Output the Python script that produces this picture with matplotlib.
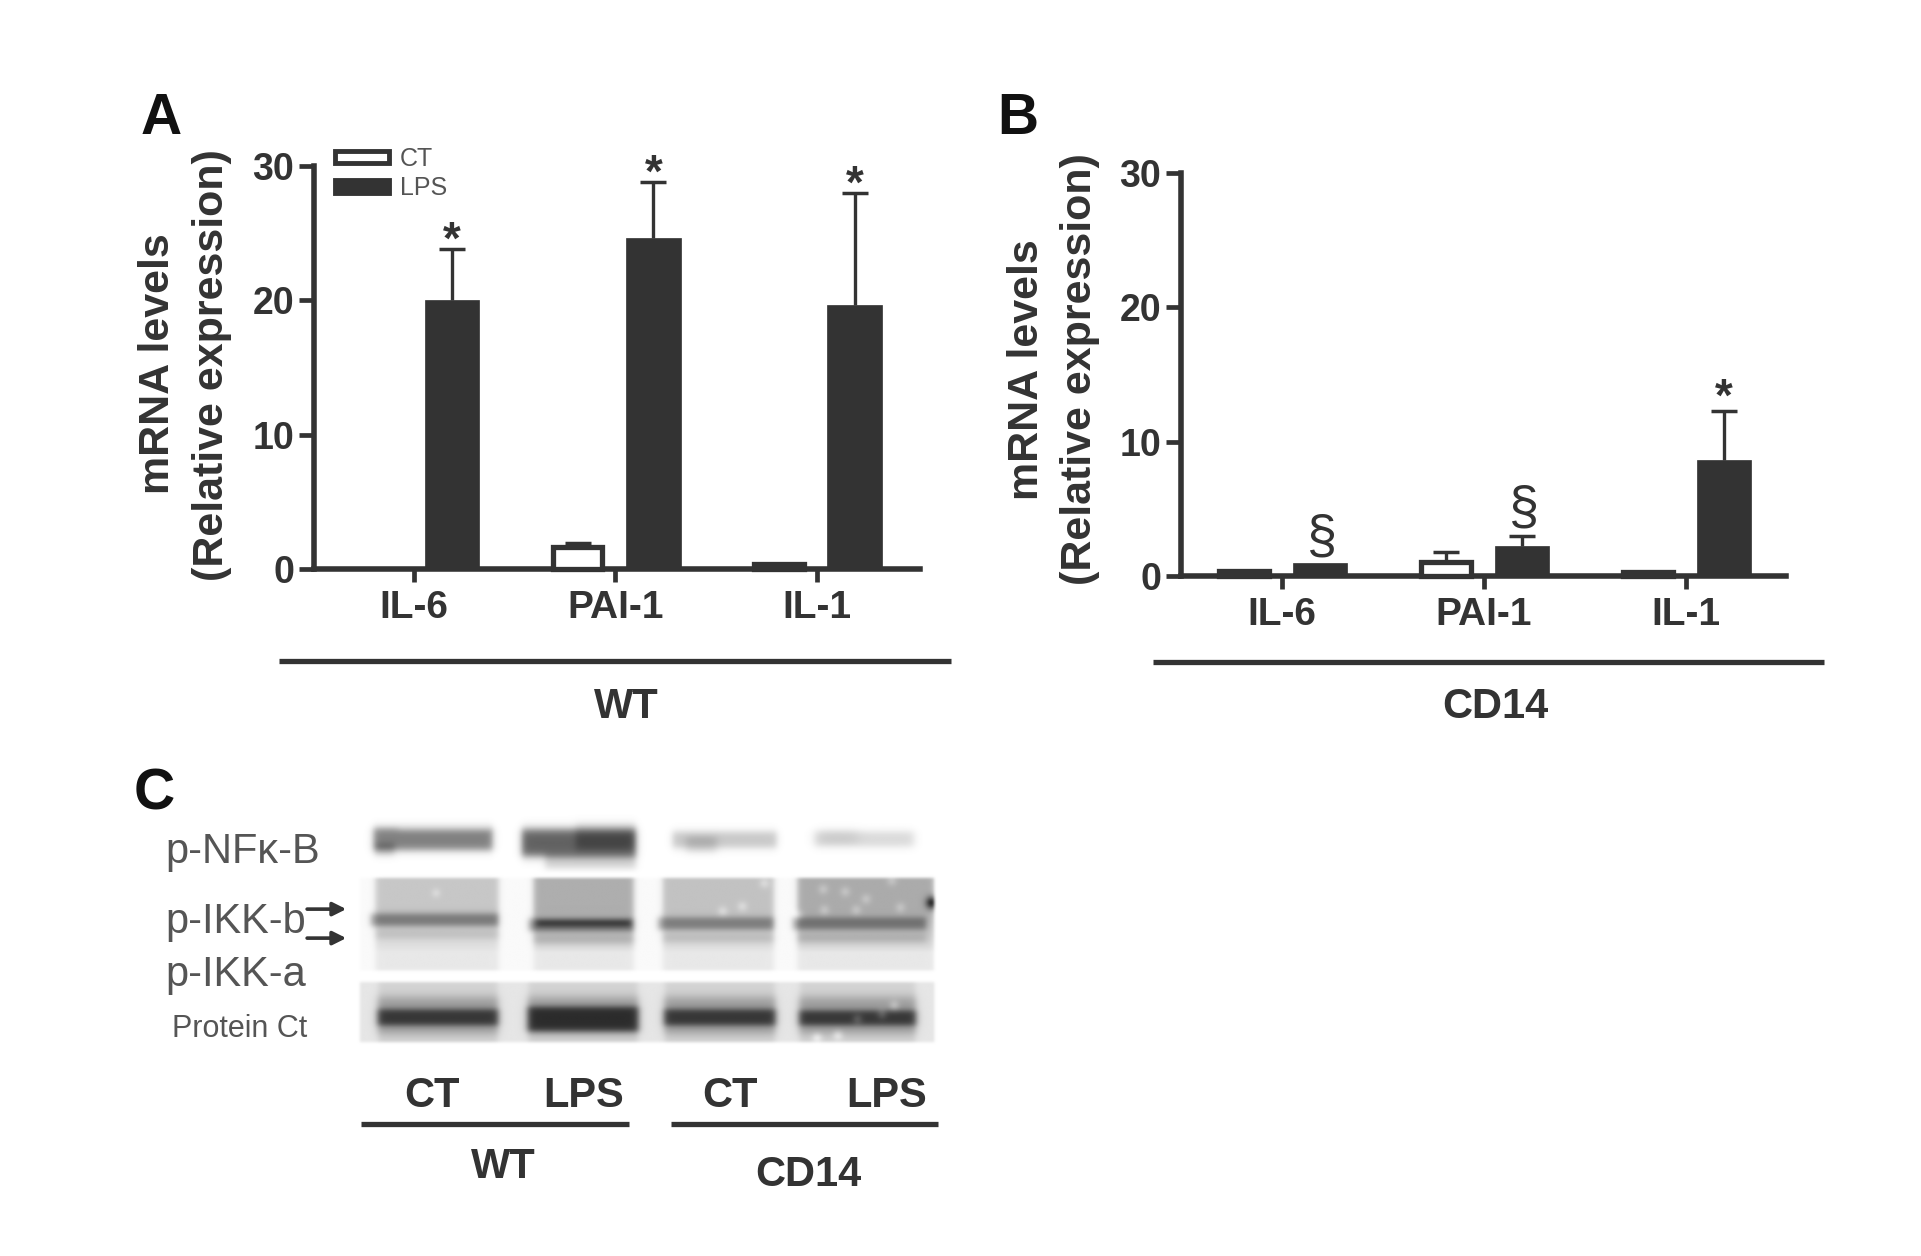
import numpy as np
import matplotlib
matplotlib.use("Agg")
import matplotlib.pyplot as plt
from matplotlib.patches import Patch

plt.rcParams['font.family'] = ['Liberation Sans', 'DejaVu Sans']

genes = ["IL-6", "PAI-1", "IL-1"]
wt_ct = [0.0, 1.6, 0.4]
wt_ct_err = [0.0, 0.35, 0.0]
wt_lps = [20.0, 24.6, 19.6]
wt_lps_err = [3.8, 4.2, 8.4]
cd14_ct = [0.4, 1.06, 0.3]
cd14_ct_err = [0.0, 0.74, 0.0]
cd14_lps = [0.93, 2.2, 8.6]
cd14_lps_err = [0.0, 0.8, 3.7]
yticks = [0, 10, 20, 30]

DARK = "#333333"
W, H = 1570.0, 1026.5
fig = plt.figure(figsize=(19.21, 12.56), dpi=100, facecolor="white")
ov = fig.add_axes([0, 0, 1, 1], zorder=0)
ov.set_xlim(0, W); ov.set_ylim(H, 0); ov.axis("off")


def panel(x0, x1, y30, y0, first, step, off, ct, cte, lps, lpse, marks):
    ax = fig.add_axes([x0 / W, 1 - y0 / H, (x1 - x0) / W, (y0 - y30) / H], zorder=2)
    ax.patch.set_alpha(0)
    ax.set_ylim(0, 30)
    ax.set_xlim((x0 - first) / step, (x1 - first) / step)
    pos = np.arange(3)
    o = off / step
    bars = ax.bar(pos - o, ct, 40.8 / step, color="white", edgecolor=DARK, linewidth=3.8,
                  clip_on=False, zorder=3, label="CT")
    for r, v in zip(bars, ct):
        r.set_visible(v > 0)
    ax.bar(pos + o, lps, 44.5 / step, color=DARK, edgecolor=DARK, linewidth=0.5, clip_on=False, zorder=3, label="LPS")
    ekw = dict(fmt="none", ecolor=DARK, elinewidth=2.4, capsize=9.7, capthick=2.5, zorder=2, clip_on=False)
    for xs, vals, errs in ((pos - o, ct, cte), (pos + o, lps, lpse)):
        idx = np.array(errs) > 0
        cont = ax.errorbar(xs[idx], np.array(vals)[idx], yerr=[np.zeros(idx.sum()), np.array(errs)[idx]], **ekw)
        cont[1][0].set_visible(False)
    for s in ("top", "right"):
        ax.spines[s].set_visible(False)
    for s in ("left", "bottom"):
        ax.spines[s].set_linewidth(4.0)
        ax.spines[s].set_color(DARK)
    ax.set_xticks(pos, genes)
    ax.set_yticks(yticks)
    ax.tick_params(axis="y", length=10.8, width=3.4, color=DARK, pad=3.5, labelsize=27, labelcolor=DARK)
    ax.tick_params(axis="x", length=9.4, width=3.4, color=DARK, pad=6, labelsize=28, labelcolor=DARK)
    for lab in ax.get_xticklabels() + ax.get_yticklabels():
        lab.set_fontweight("bold")
    tops = np.array(lps) + np.array(lpse)
    for i, m, d in marks:
        if m == "*":
            ax.text(pos[i] + o, tops[i] + d, "*", ha="center", va="baseline", fontsize=33,
                    fontweight="bold", color=DARK)
        else:
            ax.text(pos[i] + o + 0.01, tops[i] + d, "§", ha="center", va="center", fontsize=39, color=DARK)
    return ax


axA = panel(256.6, 752, 135.4, 465, 338.5, 164.5, 31, wt_ct, wt_ct_err, wt_lps, wt_lps_err,
            [(0, "*", -0.35), (1, "*", -0.35), (2, "*", -0.35)])
axB = panel(965.2, 1460, 141.1, 470.7, 1047.7, 165.1, 31, cd14_ct, cd14_ct_err, cd14_lps, cd14_lps_err,
            [(0, "§", 1.85), (1, "§", 1.95), (2, "*", 0.0)])

handles = [Patch(facecolor="white", edgecolor=DARK, linewidth=3.5, label="CT"),
           Patch(facecolor=DARK, edgecolor=DARK, linewidth=3.5, label="LPS")]
axA.legend(handles=handles, loc="upper left", bbox_to_anchor=(273.5 / W, 1 - 120 / H),
           bbox_transform=fig.transFigure, frameon=False, fontsize=18, handlelength=2.16,
           handleheight=0.38, handletextpad=0.45, labelspacing=0.22, borderaxespad=0, borderpad=0,
           labelcolor="#555555")

T = dict(ha="center", va="center", color=DARK, fontweight="bold")
ov.text(132, 97, "A", ha="center", va="center", fontsize=41, fontweight="bold", color="#111111")
ov.text(832, 97, "B", ha="center", va="center", fontsize=41, fontweight="bold", color="#111111")
ov.text(126, 649, "C", ha="center", va="center", fontsize=41, fontweight="bold", color="#111111")

ov.text(129, 297, "mRNA levels", rotation=90, fontsize=31, **T)
ov.text(173, 298, "(Relative expression)", rotation=90, fontsize=31, **T)
ov.text(839, 302, "mRNA levels", rotation=90, fontsize=31, **T)
ov.text(883, 302, "(Relative expression)", rotation=90, fontsize=31, **T)

ov.plot([228, 777], [540, 540], color=DARK, lw=3.8, solid_capstyle="butt")
ov.plot([942, 1491], [541, 541], color=DARK, lw=3.8, solid_capstyle="butt")
ov.text(512, 578, "WT", fontsize=30, **T)
ov.text(1222, 578, "CD14", fontsize=30, **T)

# ---- western blot (panel C) ----
X, Y = np.meshgrid(np.arange(290, 770, 0.5), np.arange(665, 856, 0.5))


def box(a, b, s, v):
    return 0.5 * (np.tanh((v - a) / s) - np.tanh((v - b) / s))


def blob(x0, x1, y0, y1, amp, sx=3.0, sy=2.0):
    return amp * box(x0, x1, sx, X) * box(y0, y1, sy, Y)


def spot(cx, cy, amp, r=3.0):
    return amp * np.exp(-((X - cx) ** 2 + (Y - cy) ** 2) / r ** 2)


img = np.ones_like(X)
# top row
img -= blob(305, 402, 677, 695, 0.50, 3, 3.5) + blob(306, 322, 690, 699, 0.18, 3, 3) - blob(325, 400, 676, 680, 0.08, 3, 2)
img -= blob(426, 519, 678, 700, 0.62, 3, 4) + blob(470, 519, 674, 695, 0.12, 3, 4) + blob(445, 519, 698, 710, 0.16, 3, 3)
img -= blob(549, 634, 680, 693, 0.22, 3, 3.5) + blob(560, 585, 684, 697, 0.12, 4, 3)
img -= blob(665, 746, 680, 692, 0.15, 4, 3.5) + blob(668, 700, 678, 690, 0.06, 6, 3)
img = np.where(Y > 713, 1.0, img)
# middle row
mid = (Y >= 718) & (Y <= 793) & (X >= 294) & (X <= 762.5)
lanes = [(306.5, 407), (435.6, 517.3), (541, 631.7), (651, 762.5)]
bgs = [0.13, 0.23, 0.15, 0.24]
m = np.full_like(X, 0.98)
for (a, b), g in zip(lanes, bgs):
    m -= box(a, b, 2.5, X) * (0.07 + g * np.clip((778 - Y) / 34, 0, 1) ** 0.7)
for (a, b), yc, am, am2 in zip(lanes, [752, 756, 755, 755], [0.34, 0.36, 0.32, 0.30], [0.10, 0.14, 0.12, 0.14]):
    bb = min(b, a + 105)
    m -= blob(a - 4, bb, yc - 5, yc + 5, am, 2.5, 2.8)
    m -= blob(a, bb, yc + 9, yc + 15, am2, 3, 3)
m -= blob(438, 515, 752, 757, 0.18, 2.5, 1.5)
m -= spot(761, 738, 0.6, 5)
for sx, sy in [(672, 727), (690, 729), (707, 735), (699, 744), (728, 720), (735, 742), (673, 744), (624, 722),
               (606, 741), (590, 745), (652, 748)]:
    m += spot(sx, sy, 0.10, 4)
m += spot(356, 730, 0.08, 3.5)
img = np.where(mid, m, img)
# bottom row
bot = (Y >= 802.6) & (Y <= 851.6) & (X >= 294) & (X <= 762.5)
b_ = np.full_like(X, 0.90)
for (a, b), am, y1, y2 in zip([(308, 407), (430.5, 521.4), (541.8, 633.4), (652, 748)],
                              [0.40, 0.44, 0.40, 0.40], [825, 823, 825, 826], [838, 843, 838, 838]):
    b_ -= box(a + 1, b - 1, 2.5, X) * 0.07
    b_ -= blob(a, b, 815, 845, 0.22, 3.5, 4.5)
    b_ -= blob(a, b, y1, y2, am, 3, 2.5)
for sx, sy in [(720, 829), (700, 833), (730, 822), (667, 848), (684, 846)]:
    b_ += spot(sx, sy, 0.14, 4)
img = np.where(bot, b_, img)

# soften the picture as a scanned blot would be
t = np.arange(-8, 9)
k = np.exp(-(t / 2.2) ** 2 / 2.0)
k /= k.sum()
pad = np.pad(img, 8, mode="edge")
pad = np.apply_along_axis(lambda r: np.convolve(r, k, mode="same"), 0, pad)
pad = np.apply_along_axis(lambda r: np.convolve(r, k, mode="same"), 1, pad)
img = pad[8:-8, 8:-8]

ov.imshow(np.clip(img, 0, 1), cmap="gray", vmin=0, vmax=1, extent=(289.75, 769.75, 855.75, 664.75),
          interpolation="bilinear", aspect="auto", zorder=1)
ov.set_xlim(0, W); ov.set_ylim(H, 0)

L = dict(ha="left", va="baseline", color="#555555")
ov.text(134.8, 705.3, "p-NFκ-B", fontsize=30, **L)
ov.text(134.8, 762.6, "p-IKK-b", fontsize=30, **L)
ov.text(134.8, 805.8, "p-IKK-a", fontsize=30, **L)
ov.text(140.3, 847.3, "Protein Ct", fontsize=22, **L)
for yy in (743, 766.7):
    ov.annotate("", xy=(283, yy), xytext=(251, yy),
                arrowprops=dict(arrowstyle="-|>", color=DARK, lw=2.6, mutation_scale=20, shrinkA=0, shrinkB=0))
for x, s in ((353, "CT"), (477, "LPS"), (597, "CT"), (725, "LPS")):
    ov.text(x, 896, s, fontsize=30, **T)
ov.plot([295, 514], [919, 919], color=DARK, lw=3.8, solid_capstyle="butt")
ov.plot([548, 767], [919, 919], color=DARK, lw=3.8, solid_capstyle="butt")
ov.text(411, 954, "WT", fontsize=30, **T)
ov.text(661, 960, "CD14", fontsize=30, **T)

fig.savefig("out.png", dpi=100, facecolor="white")
